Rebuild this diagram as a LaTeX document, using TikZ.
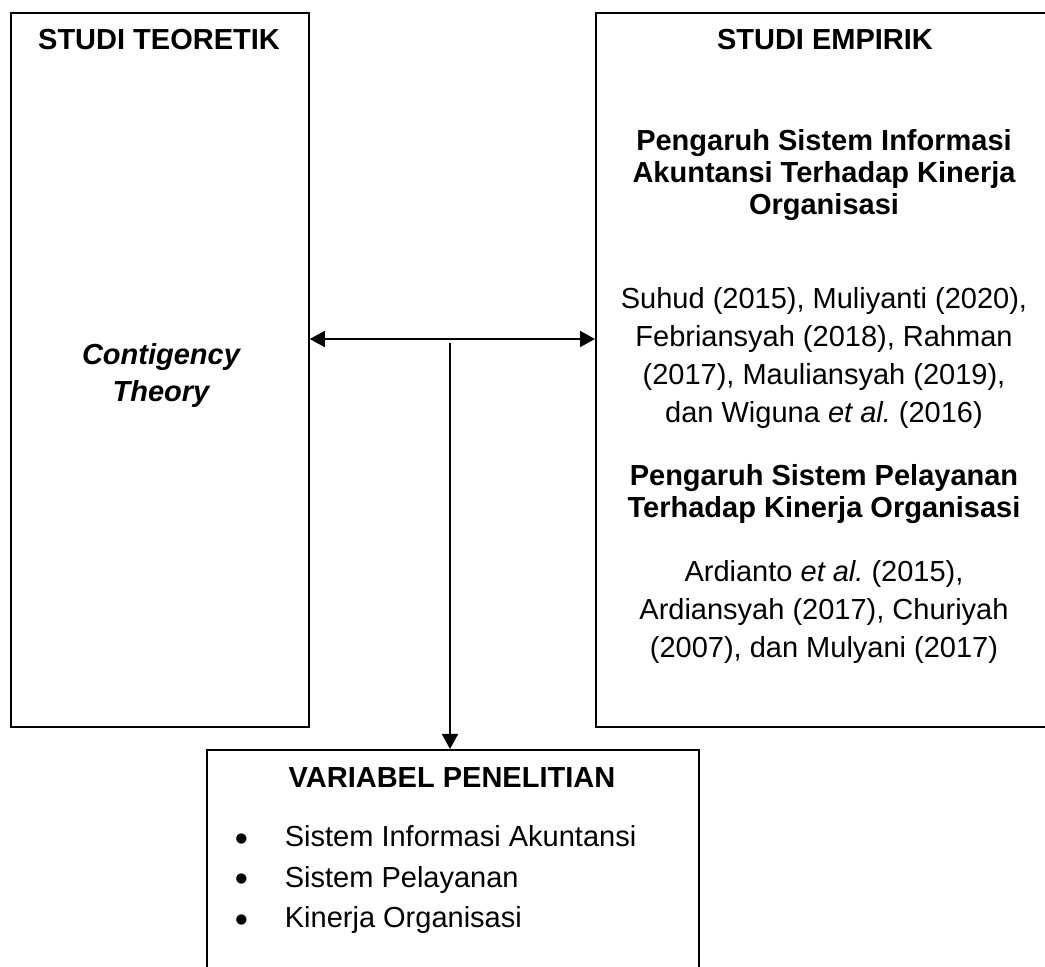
\documentclass[tikz,border=0pt]{standalone}
\usepackage{fontspec}
\setmainfont{Liberation Sans}
\usetikzlibrary{arrows.meta}
\tikzset{>={Triangle[length=7.5pt,width=8pt]}}
\tikzset{
  kotak/.style={draw, line width=0.9pt, anchor=north west, inner sep=0pt},
  judul/.style={font=\fontsize{14.5}{16}\selectfont\bfseries, align=center, anchor=base, inner sep=0pt},
  isi/.style={font=\fontsize{14.5}{19}\selectfont, align=center, anchor=base, inner sep=0pt}
}
\newcommand{\butir}{\makebox[25pt][l]{\raisebox{-2pt}{\scalebox{1.3}{•}}}}
\begin{document}
\begin{tikzpicture}[x=0.5pt, y=-0.5pt, line width=0.9pt]
    \useasboundingbox (0,0) rectangle (1045,967);
    \clip (0,0) rectangle (1045,967);
    % kotak
    \node[kotak, minimum width=149pt, minimum height=357pt] (teori) at (10,12) {};
    \node[kotak, minimum width=230pt, minimum height=357pt] (empiris) at (595,12) {};
    \node[kotak, minimum width=246pt, minimum height=126pt] (variabel) at (206,749) {};
    % studi teoretik (base = baris terakhir)
    \node[judul] (judulteori) at (159,50) {STUDI TEORETIK};
    \node[judul, font=\fontsize{14.5}{18.5}\selectfont\bfseries\itshape] (kontingensi) at (161,402) {Contigency\\Theory};
    % studi empirik
    \node[judul] (judulempiris) at (825,50) {STUDI EMPIRIK};
    \node[judul] (pengaruhsia) at (824,215) {Pengaruh Sistem Informasi\\Akuntansi Terhadap Kinerja\\Organisasi};
    \node[isi] (rujukansia) at (824,423) {Suhud (2015), Muliyanti (2020),\\Febriansyah (2018), Rahman\\(2017), Mauliansyah (2019),\\dan Wiguna \textit{et al.}\ (2016)};
    \node[judul] (pengaruhsp) at (824,518) {Pengaruh Sistem Pelayanan\\Terhadap Kinerja Organisasi};
    \node[isi] (rujukansp) at (824,658) {Ardianto \textit{et al.}\ (2015),\\Ardiansyah (2017), Churiyah\\(2007), dan Mulyani (2017)};
    % variabel penelitian
    \node[judul] (judulvariabel) at (452,788) {VARIABEL PENELITIAN};
    \node[isi, align=left, anchor=base west, font=\fontsize{14.5}{20.25}\selectfont] (daftar) at (234,928)
        {\butir Sistem Informasi Akuntansi\\\butir Sistem Pelayanan\\\butir Kinerja Organisasi};
    % panah
    \coordinate (pisah) at (450,339);
    \coordinate (awal) at (450,343);
    \draw[<->] (teori.east |- pisah) -- (empiris.west |- pisah);
    \draw[->] (awal) -- (variabel.north -| awal);
\end{tikzpicture}
\end{document}
